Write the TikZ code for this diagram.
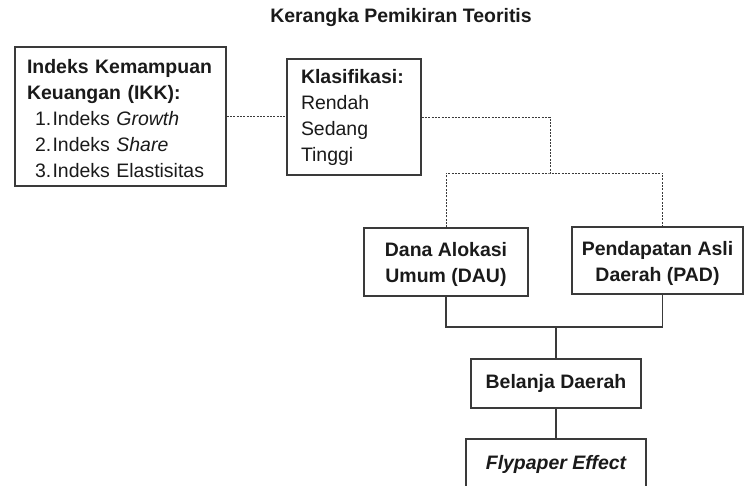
\documentclass[tikz,border=0pt]{standalone}
\usepackage{fontspec}
\setmainfont{Liberation Sans}
\definecolor{ink}{HTML}{1A1A1A}
\definecolor{edge}{HTML}{3A3A3A}
\begin{document}
\begin{tikzpicture}[x=0.75pt,y=-0.75pt,
  box/.style={draw=edge,line width=0.9pt,text=ink,inner ysep=0pt,
    font=\fontsize{14.6}{19.5}\selectfont},
  cbox/.style={box,align=center},
  dline/.style={draw=edge,line width=0.75pt,dash pattern=on 1.5pt off 1pt},
  sline/.style={draw=edge,line width=0.9pt}]
\useasboundingbox (0,0) rectangle (744,486);
\clip (0,0) rectangle (744,486);
\node[text=ink,font=\fontsize{14.6}{17}\selectfont\bfseries] (title) at (401,18) {Kerangka Pemikiran Teoritis};
\node[box,minimum width=158.25pt,minimum height=104.25pt,inner xsep=9pt,text width=140.25pt,align=left] (ikk) at (120.5,116.5)
 {\rule{0pt}{13.6pt}\textbf{Indeks Kemampuan}\\\textbf{Keuangan (IKK):}\\
  \hspace*{6pt}1.\hspace{1pt}Indeks \textit{Growth}\\
  \hspace*{6pt}2.\hspace{1pt}Indeks \textit{Share}\\
  \hspace*{6pt}3.\hspace{1pt}Indeks Elastisitas};
\node[box,minimum width=100.5pt,minimum height=87pt,inner xsep=10.5pt,text width=79.5pt,align=left] (klas) at (354,117)
 {\textbf{Klasifikasi:}\\Rendah\\Sedang\\Tinggi};
\node[cbox,minimum width=123pt,minimum height=51pt,font=\fontsize{14.6}{19.5}\selectfont\bfseries] (dau) at (446,262) {\rule{0pt}{13.6pt}Dana Alokasi\\Umum (DAU)};
\node[cbox,minimum width=128.25pt,minimum height=50.25pt,font=\fontsize{14.6}{19.5}\selectfont\bfseries] (pad) at (657.5,260.5) {\rule{0pt}{14.4pt}Pendapatan Asli\\Daerah (PAD)};
\node[cbox,minimum width=127.5pt,minimum height=36.75pt,font=\fontsize{14.6}{19.5}\selectfont\bfseries] (bel) at (556,383.5) {Belanja Daerah};
\node[box,minimum width=135pt,minimum height=38.25pt,font=\fontsize{14.6}{19.5}\selectfont\bfseries\itshape] (fly) at (556,464.5) {\raisebox{3pt}{Flypaper Effect}};
\coordinate (kd) at (550,173);
\coordinate (bj) at (556,327);
\draw[dline] (ikk.east) -- (ikk.east -| klas.west);
\draw[dline] (klas.east) -| (kd);
\draw[dline] (dau.north) |- (kd) -| ([xshift=4pt]pad.north);
\draw[sline] (dau.south) |- (bj) -| ([xshift=4pt]pad.south);
\draw[sline] (bj) -- (bel.north);
\draw[sline] (bel.south) -- (fly.north);
\end{tikzpicture}
\end{document}
